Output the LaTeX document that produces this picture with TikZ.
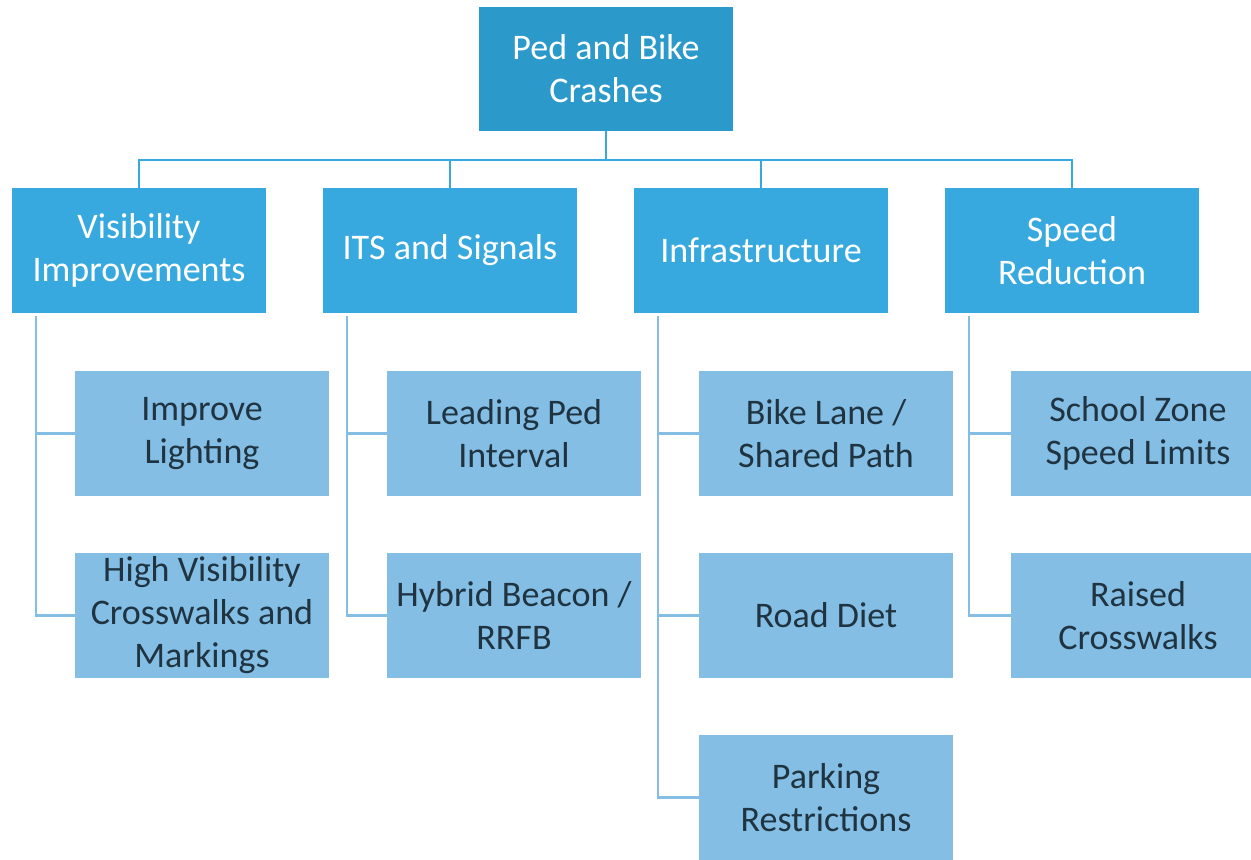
\documentclass[tikz,border=0pt]{standalone}
\usepackage{fontspec}
\setmainfont{Carlito}
\usetikzlibrary{positioning, calc}
\definecolor{rootblue}{HTML}{2B9ACB}
\definecolor{catblue}{HTML}{38A9DE}
\definecolor{itemblue}{HTML}{84BEE5}
\definecolor{itemtext}{HTML}{1F3340}

\begin{document}
\begin{tikzpicture}[x=0.02cm, y=-0.02cm,
    box/.style={rectangle,
      minimum width=5.08cm,
      minimum height=2.5cm,
      inner sep=2pt,
      align=center,
      font=\fontsize{20.5}{24.5}\selectfont},
    rootbox/.style={box, fill=rootblue, text=white, minimum height=2.48cm},
    catbox/.style={box, fill=catblue, text=white},
    itembox/.style={box, fill=itemblue, text=itemtext},
    catline/.style={draw=catblue, line width=1.3pt},
    itemline/.style={draw=itemblue, line width=1.3pt}]

  \useasboundingbox (0,0) rectangle (1251,859);

% TOP

  \node [rootbox] (crashes) at (606,69) {Ped and Bike\\Crashes};

% CATEGORIES

  \node [catbox] (visibility) at (139,250.5) {Visibility\\Improvements};
  \node [catbox] (signals) at (450,250.5) {ITS and Signals};
  \node [catbox] (infra) at (761,250.5) {Infrastructure};
  \node [catbox] (speed) at (1072,250.5) {Speed\\Reduction};

% MEASURES

  \node [itembox] (lighting) at (202,433.5) {Improve\\Lighting};
  \node [itembox] (hivis) at (202,615.5) {High Visibility\\Crosswalks and\\Markings};

  \node [itembox] (lpi) at (514,433.5) {Leading Ped\\Interval};
  \node [itembox] (beacon) at (514,615.5) {Hybrid Beacon /\\RRFB};

  \node [itembox] (bikelane) at (826,433.5) {Bike Lane /\\Shared Path};
  \node [itembox] (roaddiet) at (826,615.5) {Road Diet};
  \node [itembox] (parking) at (826,797.5) {Parking\\Restrictions};

  \node [itembox] (school) at (1138,433.5) {School Zone\\Speed Limits};
  \node [itembox] (raised) at (1138,615.5) {Raised\\Crosswalks};

% CONNECTORS

  \coordinate (bus) at (606,160);
  \draw [catline] (crashes.south) -- (bus);
  \foreach \cat in {visibility, signals, infra, speed}
    \draw [catline] (bus) -| (\cat.north);

  \foreach \cat/\item in {visibility/lighting, visibility/hivis,
      signals/lpi, signals/beacon,
      infra/bikelane, infra/roaddiet, infra/parking,
      speed/school, speed/raised}
    \draw [itemline] ($(\cat.south west) + (24,3)$) |- (\item.west);

\end{tikzpicture}
\end{document}
